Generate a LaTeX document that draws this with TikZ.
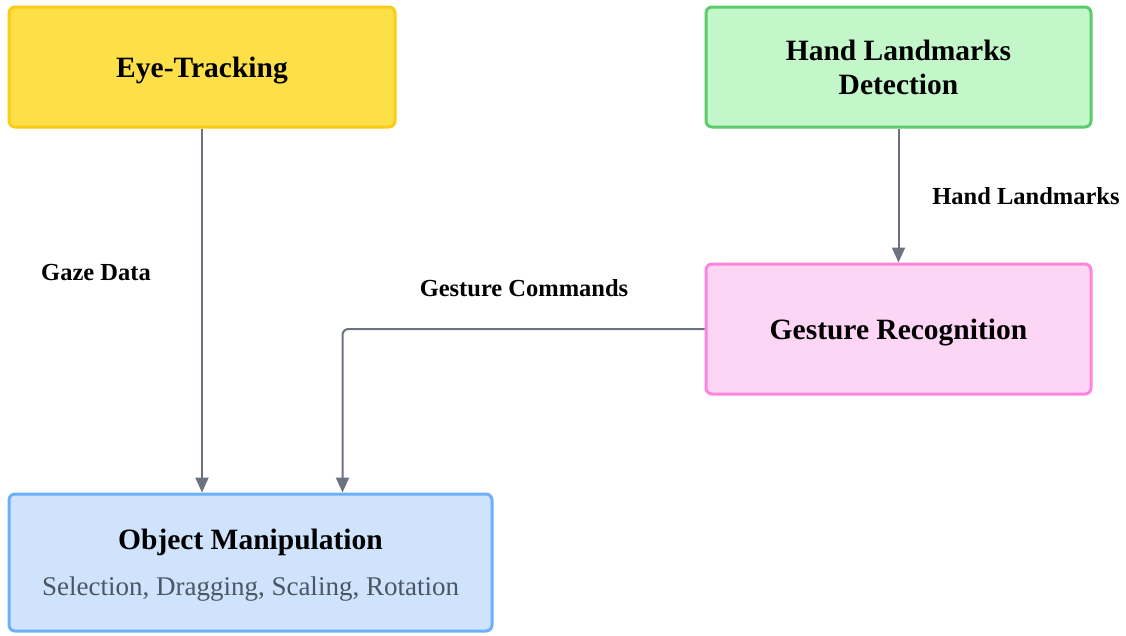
\documentclass[tikz,border=0pt]{standalone}
\usepackage{fontspec}
\setmainfont{Liberation Serif}
\usepackage{tikz}
\usetikzlibrary{arrows.meta,positioning}
\definecolor{eyefill}{HTML}{FDE047}
\definecolor{eyeline}{HTML}{FACC15}
\definecolor{handfill}{HTML}{C3F7CA}
\definecolor{handline}{HTML}{5CCB6C}
\definecolor{gestfill}{HTML}{FDD5F5}
\definecolor{gestline}{HTML}{FF85DC}
\definecolor{objfill}{HTML}{CFE3FD}
\definecolor{objline}{HTML}{6CB0FA}
\definecolor{wire}{HTML}{6B7280}
\definecolor{subgray}{HTML}{4B5563}
\tikzset{
	stagebox/.style={
		draw, rectangle, rounded corners=6pt, line width=3pt,
		inner sep=0pt, align=center, text=black, text depth=0pt,
		font=\fontsize{29.5}{34}\selectfont\bfseries
	},
	flowlabel/.style={
		inner sep=0pt, text=black,
		font=\fontsize{24.5}{28}\selectfont\bfseries
	},
}

\begin{document}
\begin{tikzpicture}[x=1pt, y=-1pt,
			flow/.style={line width=2pt, draw=wire,
				-{Triangle[length=15pt,width=13pt]}}]
		\useasboundingbox (0,0) rectangle (1126,635);
		\node[stagebox, fill=eyefill, draw=eyeline,
			minimum width=386pt, minimum height=120pt] (eye) at (202,67) {Eye-Tracking};
		\node[stagebox, fill=handfill, draw=handline,
			minimum width=385pt, minimum height=120pt] (hand) at (898.5,67) {Hand Landmarks\\Detection};
		\node[stagebox, fill=gestfill, draw=gestline,
			minimum width=385pt, minimum height=130pt] (gest) at (898.5,329) {Gesture Recognition};
		\node[stagebox, fill=objfill, draw=objline, text depth=-6pt,
			minimum width=483pt, minimum height=137pt] (obj) at (250.5,562.5)
			{Object Manipulation\\[12pt]{\fontsize{27}{30}\selectfont\mdseries\color{subgray}Selection, Dragging, Scaling, Rotation}};
		\draw[flow] (eye) -- (obj.north -| eye);
		\draw[flow] (hand) -- (gest);
		\draw[flow, rounded corners=6pt] (gest.west) -| ([xshift=92pt]obj.north);
		\node[flowlabel] (gaze) at (96,273) {Gaze Data};
		\node[flowlabel] (marks) at (1026,196) {Hand Landmarks};
		\node[flowlabel] (cmds) at (524,288) {Gesture Commands};
	\end{tikzpicture}
\end{document}
